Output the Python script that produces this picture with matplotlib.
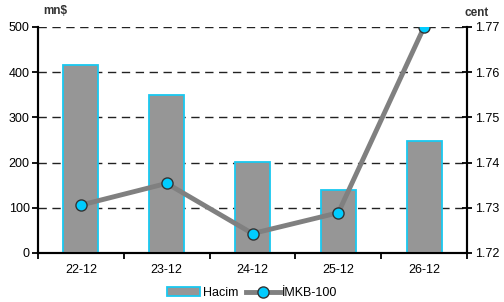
import numpy as np
import matplotlib
matplotlib.use("Agg")
import matplotlib.pyplot as plt

plt.rcParams['font.family'] = ['Liberation Sans', 'DejaVu Sans']

# data
dates = ["22-12", "23-12", "24-12", "25-12", "26-12"]
hacim = [415, 349, 201, 139, 247]
imkb = [1.7306, 1.7354, 1.7243, 1.7289, 1.7700]

fig = plt.figure(figsize=(5.04, 3.02), dpi=100)
ax = fig.add_axes([0.0754, 0.1623, 0.8512, 0.7483])
ax2 = ax.twinx()

x = np.arange(len(dates))

# bars
bars = ax.bar(x, hacim, width=0.41, color='#969696', edgecolor='#19c8f0',
              linewidth=1.3, zorder=3, label='Hacim')
ax.set_xlim(-0.5, 4.5)
ax.set_ylim(0, 500)
ax.set_yticks([0, 100, 200, 300, 400, 500])
ax.yaxis.grid(True, color='#222222', linestyle=(0, (6, 4)), linewidth=1.0, zorder=0)
ax.set_axisbelow(True)

# x ticks between categories
ax.set_xticks(x)
ax.set_xticklabels(dates)
ax.set_xticks(np.arange(-0.5, 5, 1), minor=True)
ax.tick_params(axis='x', which='major', length=0, pad=8, labelsize=9)
ax.tick_params(axis='x', which='minor', length=4, width=1.3, direction='out')
ax.tick_params(axis='y', length=4, width=1.3, direction='out', labelsize=9, pad=2)

# line
line, = ax2.plot(x, imkb, color='#808080', linewidth=3.5, marker='o',
                 markersize=8, markerfacecolor='#00ccff',
                 markeredgecolor='#333333', markeredgewidth=1.0,
                 zorder=5, label='İMKB-100')
ax2.set_ylim(1.72, 1.77)
ax2.set_yticks([1.72, 1.73, 1.74, 1.75, 1.76, 1.77])
ax2.set_yticklabels(["1.72", "1.73", "1.74", "1.75", "1.76", "1.77"])
ax2.tick_params(axis='y', length=7, width=1.3, direction='inout', labelsize=9, pad=2)

for a in (ax, ax2):
    a.spines['top'].set_visible(False)
    for s in ('left', 'right', 'bottom'):
        a.spines[s].set_linewidth(1.5)
        a.spines[s].set_color('black')

fig.text(0.086, 0.955, "mn$", fontsize=8.5, fontweight='bold', color='#333333')
fig.text(0.921, 0.948, "cent", fontsize=8.5, fontweight='bold', color='#333333')

fig.legend([bars, line], ['Hacim', 'İMKB-100'], loc='center', ncol=2,
           bbox_to_anchor=(0.5, 0.03), frameon=False, fontsize=9,
           handlelength=2.7, handletextpad=0.2, columnspacing=0.6)

fig.savefig("out.png", dpi=100)
